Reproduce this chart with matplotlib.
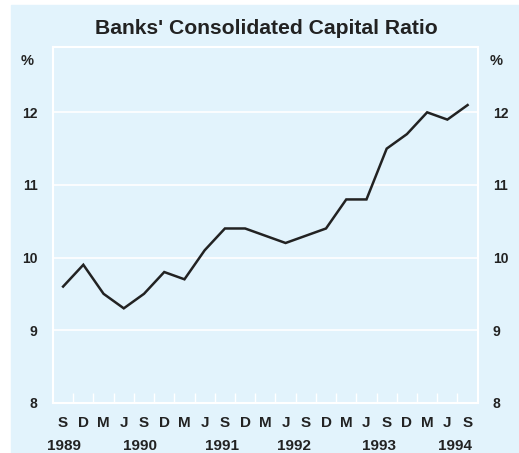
import numpy as np
import matplotlib
matplotlib.use('Agg')
import matplotlib.pyplot as plt
from matplotlib.patches import Rectangle

# quarterly, Sep 1989 - Sep 1994
months = ['S', 'D', 'M', 'J'] * 5 + ['S']
ratio = [9.6, 9.9, 9.5, 9.3, 9.5, 9.8, 9.7, 10.1, 10.4, 10.4, 10.3,
         10.2, 10.3, 10.4, 10.8, 10.8, 11.5, 11.7, 12.0, 11.9, 12.1]
years = ['1989', '1990', '1991', '1992', '1993', '1994']
year_pos = [0.54, 4.31, 8.37, 11.93, 16.14, 19.9]
yticks = [8, 9, 10, 11, 12]

BG = '#E2F3FC'
TXT = '#222222'
plt.rcParams.update({'font.family': ['Liberation Sans', 'DejaVu Sans'],
                     'font.weight': 'bold', 'text.color': TXT,
                     'ytick.labelcolor': TXT})

fig = plt.figure(figsize=(5.19, 4.53), dpi=100)
fig.patch.set_facecolor('white')
fig.patches.append(Rectangle((11 / 519, 0), 1, 448 / 453,
                             transform=fig.transFigure, color=BG,
                             zorder=-5))

ax = fig.add_axes([53 / 519, 50.3 / 453, 424.7 / 519, 355.7 / 453])
ax.set_facecolor(BG)

x = np.arange(len(ratio)) + 0.5
ax.plot(x, ratio, color=TXT, lw=1.8, zorder=3, solid_joinstyle='miter')

ax.set_xlim(0, len(ratio))
ax.set_ylim(8, 12.9)
ax.set_yticks(yticks)
ax.set_yticklabels([str(v) for v in yticks])
ax.grid(axis='y', color='white', lw=1.2)
ax.set_axisbelow(True)

for s in ax.spines.values():
    s.set_color('white')
    s.set_linewidth(1.5)

# ticks between quarters, pointing up into the plot
ax.set_xticks(np.arange(1, len(ratio)))
ax.set_xticklabels([])
ax.tick_params(axis='x', direction='in', length=7, width=1, color='white')
ax.tick_params(axis='y', length=0, labelsize=10, pad=11,
               labelright=True, labelleft=True)

for xi, m in zip(x, months):
    ax.text(xi, -0.058, m, transform=ax.get_xaxis_transform(),
            ha='center', va='center', fontsize=11, fontweight='bold')
for xp, yr in zip(year_pos, years):
    ax.text(xp, -0.121, yr, transform=ax.get_xaxis_transform(),
            ha='center', va='center', fontsize=11, fontweight='bold')

ax.text(-0.045, 0.96, '%', transform=ax.transAxes, ha='right',
        va='center', fontsize=10.5, fontweight='bold')
ax.text(1.028, 0.96, '%', transform=ax.transAxes, ha='left',
        va='center', fontsize=10.5, fontweight='bold')

fig.text(0.5125, 0.937, "Banks' Consolidated Capital Ratio", ha='center',
         va='center', fontsize=15.2, fontweight='bold')

fig.savefig('out.png', dpi=100, facecolor=fig.get_facecolor())
